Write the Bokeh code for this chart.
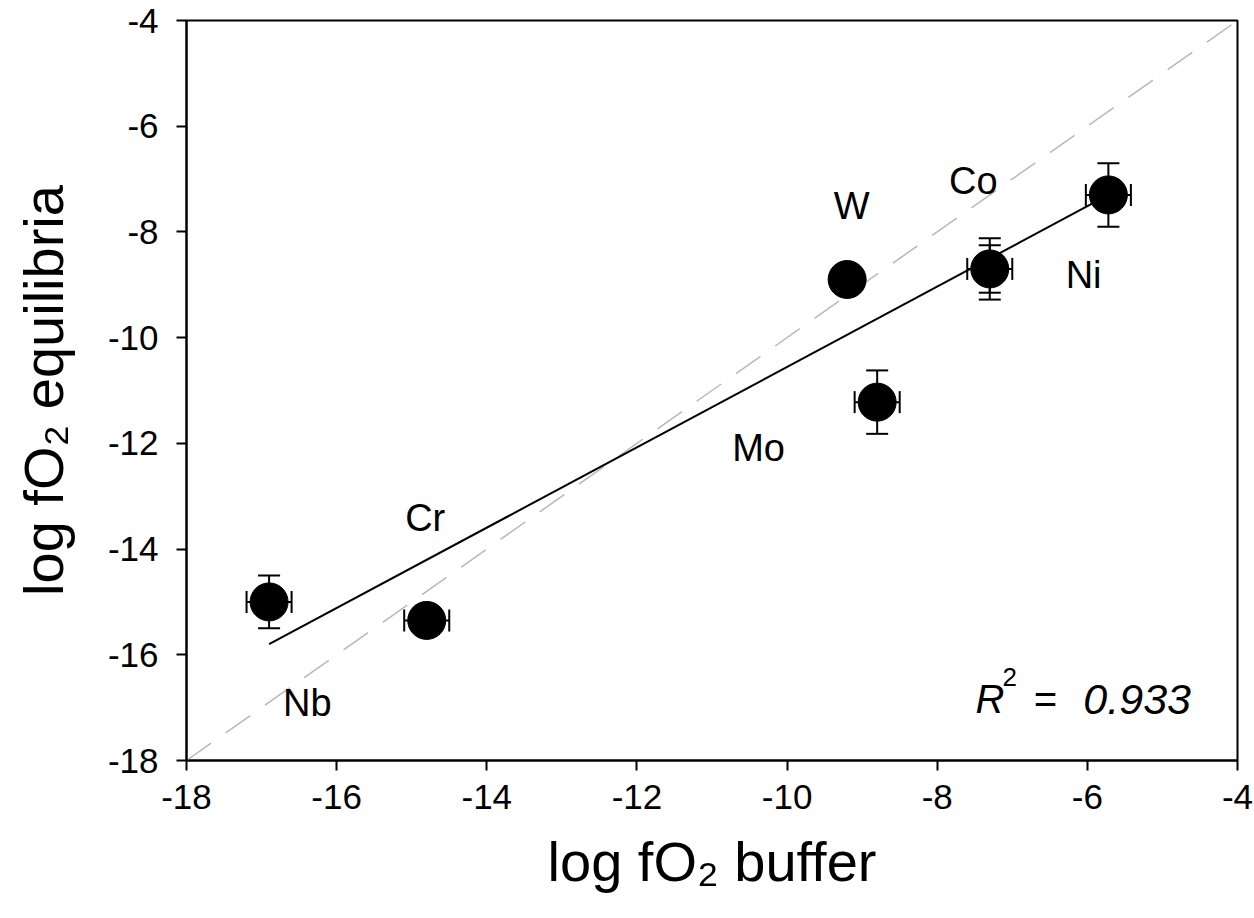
from bokeh.plotting import figure
from bokeh.models import Range1d, FixedTicker, ColumnDataSource, Whisker, TeeHead, Label
from bokeh.core.properties import value
from bokeh.embed import file_html
from bokeh.resources import INLINE

# Data
elements = ["Nb", "Cr", "W", "Mo", "Co", "Ni"]
fo2_buffer = [-16.9, -14.8, -9.2, -8.8, -7.3, -5.72]
fo2_equil = [-15.0, -15.35, -8.9, -11.22, -8.7, -7.3]
x_err = [0.3, 0.3, 0.0, 0.3, 0.3, 0.3]
y_err = [0.5, 0.0, 0.0, 0.6, 0.58, 0.6]
y_err2 = [0.0, 0.0, 0.0, 0.0, 0.45, 0.0]

# element label positions
label_text = ["Nb", "Cr", "W", "Mo", "Co", "Ni"]
label_x = [-16.39, -14.82, -9.14, -10.38, -7.52, -6.05]
label_y = [-16.92, -13.42, -7.5, -12.08, -7.03, -8.82]

# regression line and 1:1 line
fit_x = [-16.9, -5.72]
fit_y = [-15.8, -7.3]
one_x = [-18, -4]
one_y = [-18, -4]

ticks = [-18, -16, -14, -12, -10, -8, -6, -4]
tick_labels = {t: str(t) for t in ticks}
r2_value = "0.933"

FONT = "Liberation Sans"

p = figure(width=1254, height=918, output_backend="svg", toolbar_location=None,
           x_range=Range1d(-18, -4), y_range=Range1d(-18, -4),
           min_border_left=186, min_border_right=17, min_border_top=20, min_border_bottom=158)
p.xgrid.visible = False
p.ygrid.visible = False
p.outline_line_color = "black"
p.outline_line_width = 2
p.background_fill_color = "white"
p.border_fill_color = "white"

for ax in (p.xaxis[0], p.yaxis[0]):
    ax.ticker = FixedTicker(ticks=ticks)
    ax.major_label_overrides = tick_labels
    ax.minor_tick_line_color = None
    ax.major_tick_in = 0
    ax.major_tick_out = 10
    ax.major_tick_line_width = 2
    ax.major_tick_line_color = "black"
    ax.axis_line_width = 2
    ax.axis_line_color = "black"
    ax.major_label_text_font = FONT
    ax.major_label_text_font_size = "35px"
    ax.major_label_text_color = "black"
    ax.axis_label_text_font = FONT
    ax.axis_label_text_font_size = "56px"
    ax.axis_label_text_font_style = "normal"
    ax.axis_label_text_color = "black"

p.xaxis.axis_label = "log fO\u2082 buffer"
p.yaxis.axis_label = "log fO\u2082 equilibria"
p.xaxis.major_label_standoff = 14
p.yaxis.major_label_standoff = 18
p.xaxis.axis_label_standoff = 18
p.yaxis.axis_label_standoff = 30

# 1:1 dashed line
p.line(one_x, one_y, line_color="#b8b8b8", line_width=1.5, line_dash="30 18")
# regression line
p.line(fit_x, fit_y, line_color="black", line_width=2)

# error bars
ex = [(x, y, e) for x, y, e in zip(fo2_buffer, fo2_equil, x_err) if e > 0]
src_x = ColumnDataSource(dict(y=[a[1] for a in ex], lo=[a[0] - a[2] for a in ex], hi=[a[0] + a[2] for a in ex]))
p.add_layout(Whisker(source=src_x, base="y", lower="lo", upper="hi", dimension="width",
                     line_color="black", line_width=2,
                     upper_head=TeeHead(size=22, line_width=2, line_color="black"),
                     lower_head=TeeHead(size=22, line_width=2, line_color="black")))
for errs in (y_err, y_err2):
    ey = [(x, y, e) for x, y, e in zip(fo2_buffer, fo2_equil, errs) if e > 0]
    src_y = ColumnDataSource(dict(x=[a[0] for a in ey], lo=[a[1] - a[2] for a in ey], hi=[a[1] + a[2] for a in ey]))
    p.add_layout(Whisker(source=src_y, base="x", lower="lo", upper="hi", dimension="height",
                         line_color="black", line_width=2,
                         upper_head=TeeHead(size=22, line_width=2, line_color="black"),
                         lower_head=TeeHead(size=22, line_width=2, line_color="black")))

# points
p.scatter(fo2_buffer, fo2_equil, size=38, fill_color="black", line_color="black")

# labels
p.text(label_x, label_y, text=label_text, text_font=value(FONT), text_font_size="38px",
       text_align="center", text_baseline="middle", text_color="black")

# R^2 annotation, built from pieces to mimic the superscript
common = dict(text_font=FONT, text_font_style="italic", text_color="black", text_baseline="middle")
p.add_layout(Label(x=-7.49, y=-16.845, text="R", text_font_size="40px", text_align="left", **common))
p.add_layout(Label(x=-7.13, y=-16.42, text="2", text_font_size="26px", text_align="left",
                   text_font=FONT, text_color="black", text_baseline="middle"))
p.add_layout(Label(x=-6.72, y=-16.845, text="=", text_font_size="40px", text_align="left", **common))
p.add_layout(Label(x=-4.62, y=-16.845, text=r2_value, text_font_size="43px", text_align="right", **common))

open("out.html", "w").write(file_html(p, INLINE))
